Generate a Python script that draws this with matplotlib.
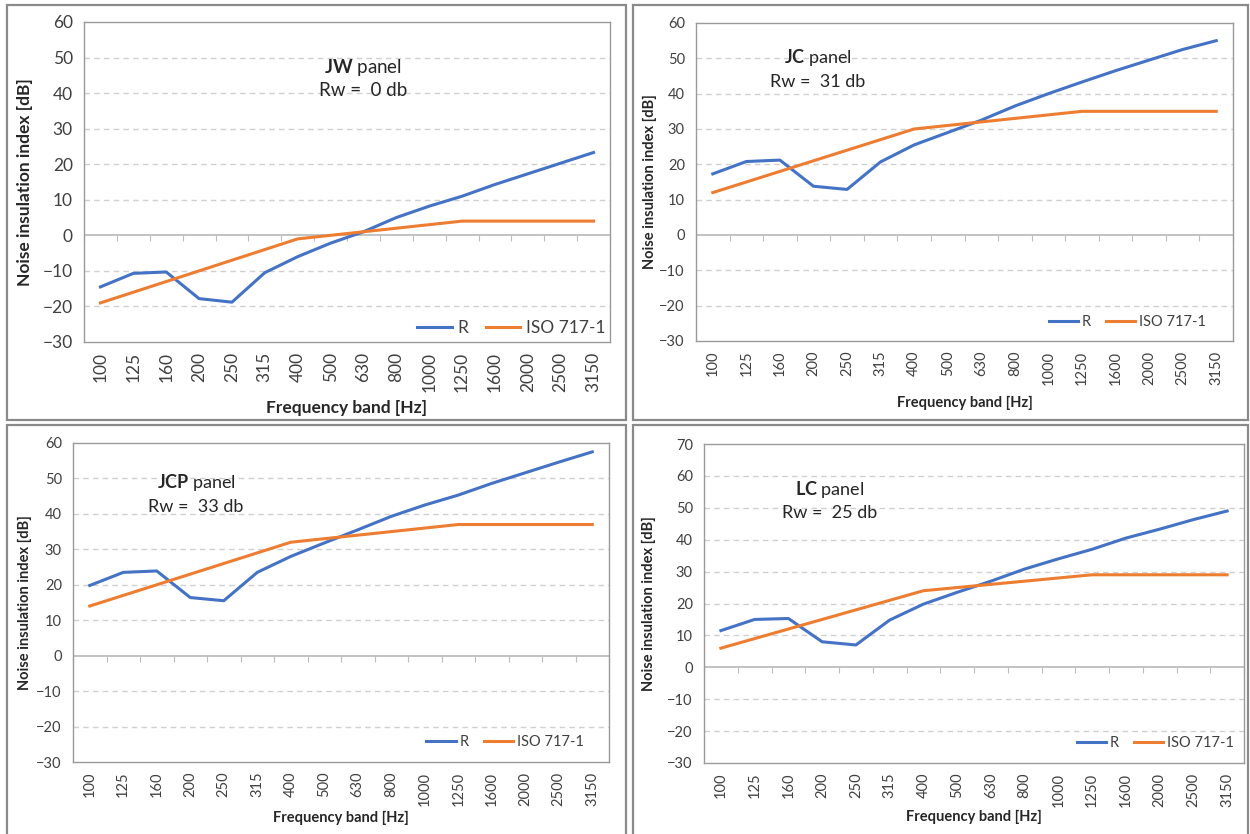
import matplotlib
matplotlib.use("Agg")
import matplotlib.pyplot as plt
from matplotlib.patches import Rectangle

plt.rcParams['font.family'] = ['Lato', 'DejaVu Sans']
plt.rcParams['mathtext.fontset'] = 'custom'
plt.rcParams['mathtext.rm'] = 'Lato'
plt.rcParams['mathtext.bf'] = 'Lato:bold'

bands = ["100", "125", "160", "200", "250", "315", "400", "500", "630",
         "800", "1000", "1250", "1600", "2000", "2500", "3150"]

jw_R = [-14.5, -10.7, -10.3, -17.8, -18.8, -10.5, -6.0, -2.2, 1.0, 5.0,
        8.2, 11.0, 14.3, 17.3, 20.3, 23.3]
jw_iso = [-19, -16, -13, -10, -7, -4, -1, 0, 1, 2, 3, 4, 4, 4, 4, 4]

jc_R = [17.3, 20.8, 21.2, 13.8, 12.9, 20.7, 25.5, 29.0, 32.5, 36.5,
        40.0, 43.3, 46.5, 49.5, 52.5, 55.0]
jc_iso = [12, 15, 18, 21, 24, 27, 30, 31, 32, 33, 34, 35, 35, 35, 35, 35]

jcp_R = [19.8, 23.5, 23.9, 16.4, 15.5, 23.5, 28.0, 31.8, 35.5, 39.3,
         42.5, 45.3, 48.6, 51.6, 54.6, 57.5]
jcp_iso = [14, 17, 20, 23, 26, 29, 32, 33, 34, 35, 36, 37, 37, 37, 37, 37]

lc_R = [11.5, 15.0, 15.3, 8.0, 7.0, 14.8, 19.8, 23.5, 27.0, 30.8,
        34.0, 37.0, 40.5, 43.3, 46.3, 49.0]
lc_iso = [6, 9, 12, 15, 18, 21, 24, 25, 26, 27, 28, 29, 29, 29, 29, 29]

panel_names = ["JW", "JC", "JCP", "LC"]
rw_values = ["0", "31", "33", "25"]
y_tops = [60, 60, 60, 70]

W, H = 1250, 834
fig = plt.figure(figsize=(12.5, 8.34), dpi=100)

BLUE = "#4472C4"
ORANGE = "#ED7D31"
TXT = "#404040"

def fx(px):
    return px / W

def fy(py):
    return 1 - py / H

layouts = [
    dict(pa=(84, 610, 22, 342), fs=12.5, afs=13.5, ann=(363, 67, 91), leg=(612, 328), ylx=25, xly=408),
    dict(pa=(696, 1233, 23, 341), fs=10.5, afs=13, ann=(818, 58, 82), leg=(1212, 322), ylx=650, xly=403),
    dict(pa=(73, 609, 443, 762), fs=10.5, afs=13, ann=(196, 483, 507), leg=(590, 742), ylx=25, xly=818),
    dict(pa=(704, 1244, 444, 763), fs=10.5, afs=13, ann=(830, 489, 513), leg=(1240, 743), ylx=649, xly=817),
]

datasets = [(jw_R, jw_iso), (jc_R, jc_iso), (jcp_R, jcp_iso), (lc_R, lc_iso)]

frames = [(7, 5, 626, 420), (633, 5, 1248, 420), (7, 425, 626, 840), (633, 425, 1248, 840)]
for (x0, y0, x1, y1) in frames:
    fig.patches.append(Rectangle((fx(x0), fy(y1)), fx(x1 - x0), (y1 - y0) / H,
                                 transform=fig.transFigure, fill=False,
                                 edgecolor="#8a8a8a", lw=1.6, zorder=0))

x = list(range(len(bands)))
for i, lay in enumerate(layouts):
    l, r, t, b = lay["pa"]
    fs = lay["fs"]
    ax = fig.add_axes([fx(l), fy(b), fx(r - l), (b - t) / H])
    R, iso = datasets[i]
    ymin, ymax = -30, y_tops[i]
    ax.set_xlim(-0.5, len(bands) - 0.5)
    ax.set_ylim(ymin, ymax)
    ax.set_yticks(range(ymin, ymax + 1, 10))
    ax.tick_params(axis='y', length=0, labelsize=fs, labelcolor=TXT, pad=8)
    ax.set_xticks(x)
    ax.set_xticklabels(bands, rotation=90, fontsize=fs, color=TXT)
    ax.tick_params(axis='x', length=0, pad=7)
    for v in range(ymin, ymax + 1, 10):
        if v != 0 and v != ymin and v != ymax:
            ax.axhline(v, color="#d0d0d0", lw=1.0, ls=(0, (4, 3)), zorder=1)
    ax.axhline(0, color="#bdbdbd", lw=1.3, zorder=2)
    for s in ax.spines.values():
        s.set_color("#9a9a9a")
        s.set_linewidth(1.0)
    sec = ax.secondary_xaxis(-ymin / (ymax - ymin))
    sec.set_xticks([k + 0.5 for k in range(-1, len(bands))])
    sec.set_xticklabels([])
    sec.tick_params(length=4, color="#bdbdbd", direction='out')
    sec.spines['bottom'].set_visible(False)

    ax.plot(x, R, color=BLUE, lw=2.2, label="R", zorder=3)
    ax.plot(x, iso, color=ORANGE, lw=2.2, label="ISO 717-1", zorder=3)

    lx, ly = lay["leg"]
    ax.legend(loc="center right", bbox_to_anchor=((lx - l) / (r - l), (b - ly) / (b - t)),
              ncol=2, frameon=False, fontsize=fs, handlelength=2.0,
              columnspacing=1.0, handletextpad=0.3, borderaxespad=0,
              labelcolor=TXT)

    ax_, ay1, ay2 = lay["ann"]
    afs = lay["afs"]
    fig.text(fx(ax_), fy(ay1), r"$\mathbf{" + panel_names[i] + r"}$ panel",
             ha="center", va="center", fontsize=afs, color="#262626")
    fig.text(fx(ax_), fy(ay2), "Rw =  " + rw_values[i] + " db",
             ha="center", va="center", fontsize=afs, color="#262626")

    fig.text(fx(lay["ylx"]), fy((t + b) / 2), "Noise insulation index [dB]",
             rotation=90, ha="center", va="center", fontsize=fs,
             fontweight="bold", color="#262626")
    fig.text(fx((l + r) / 2), fy(lay["xly"]), "Frequency band [Hz]",
             ha="center", va="center", fontsize=fs, fontweight="bold",
             color="#262626")

fig.savefig("out.png", dpi=100)
